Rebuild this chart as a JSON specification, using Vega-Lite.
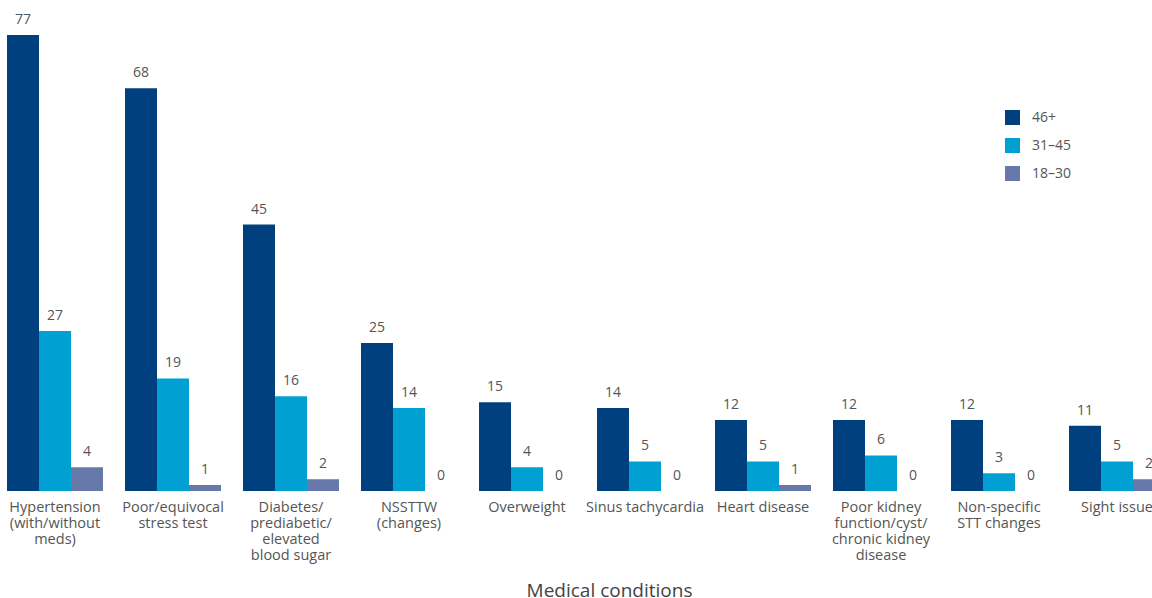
{
  "$schema": "https://vega.github.io/schema/vega-lite/v6.json",
  "width": 1152,
  "height": 456,
  "autosize": {"type": "none"},
  "padding": {"left": 0, "top": 35, "right": 0, "bottom": 107},
  "data": {
    "values": [
      {"condition": "Hypertension|(with/without|meds)", "age": "46+", "count": 77},
      {"condition": "Hypertension|(with/without|meds)", "age": "31–45", "count": 27},
      {"condition": "Hypertension|(with/without|meds)", "age": "18–30", "count": 4},
      {"condition": "Poor/equivocal|stress test", "age": "46+", "count": 68},
      {"condition": "Poor/equivocal|stress test", "age": "31–45", "count": 19},
      {"condition": "Poor/equivocal|stress test", "age": "18–30", "count": 1},
      {"condition": "Diabetes/|prediabetic/|elevated|blood sugar", "age": "46+", "count": 45},
      {"condition": "Diabetes/|prediabetic/|elevated|blood sugar", "age": "31–45", "count": 16},
      {"condition": "Diabetes/|prediabetic/|elevated|blood sugar", "age": "18–30", "count": 2},
      {"condition": "NSSTTW|(changes)", "age": "46+", "count": 25},
      {"condition": "NSSTTW|(changes)", "age": "31–45", "count": 14},
      {"condition": "NSSTTW|(changes)", "age": "18–30", "count": 0},
      {"condition": "Overweight", "age": "46+", "count": 15},
      {"condition": "Overweight", "age": "31–45", "count": 4},
      {"condition": "Overweight", "age": "18–30", "count": 0},
      {"condition": "Sinus tachycardia", "age": "46+", "count": 14},
      {"condition": "Sinus tachycardia", "age": "31–45", "count": 5},
      {"condition": "Sinus tachycardia", "age": "18–30", "count": 0},
      {"condition": "Heart disease", "age": "46+", "count": 12},
      {"condition": "Heart disease", "age": "31–45", "count": 5},
      {"condition": "Heart disease", "age": "18–30", "count": 1},
      {"condition": "Poor kidney|function/cyst/|chronic kidney|disease", "age": "46+", "count": 12},
      {"condition": "Poor kidney|function/cyst/|chronic kidney|disease", "age": "31–45", "count": 6},
      {"condition": "Poor kidney|function/cyst/|chronic kidney|disease", "age": "18–30", "count": 0},
      {"condition": "Non-specific|STT changes", "age": "46+", "count": 12},
      {"condition": "Non-specific|STT changes", "age": "31–45", "count": 3},
      {"condition": "Non-specific|STT changes", "age": "18–30", "count": 0},
      {"condition": "Sight issue", "age": "46+", "count": 11},
      {"condition": "Sight issue", "age": "31–45", "count": 5},
      {"condition": "Sight issue", "age": "18–30", "count": 2}
    ]
  },
  "encoding": {
    "x": {
      "field": "condition",
      "type": "nominal",
      "sort": null,
      "scale": {"range": [7, 1165], "paddingInner": 0.1864, "paddingOuter": 0},
      "axis": {
        "domain": false,
        "ticks": false,
        "labelAngle": 0,
        "labelPadding": 9,
        "labelLimit": 0,
        "labelFont": "Open Sans",
        "labelFontSize": 14.5,
        "labelColor": "#555555",
        "labelLineHeight": 16,
        "labelExpr": "split(datum.label, '|')",
        "title": "Medical conditions",
        "titleFont": "Open Sans",
        "titleFontSize": 19,
        "titleFontWeight": "normal",
        "titleColor": "#444444",
        "titleX": 609,
        "titleY": 105,
        "titleBaseline": "alphabetic"
      }
    },
    "xOffset": {
      "field": "age",
      "type": "nominal",
      "sort": ["46+", "31–45", "18–30"],
      "scale": {"paddingInner": 0, "paddingOuter": 0}
    },
    "y": {
      "field": "count",
      "type": "quantitative",
      "scale": {"domain": [0, 77], "nice": false},
      "axis": null
    }
  },
  "layer": [
    {
      "mark": {"type": "bar"},
      "encoding": {
        "color": {
          "field": "age",
          "type": "nominal",
          "sort": ["46+", "31–45", "18–30"],
          "scale": {
            "domain": ["46+", "31–45", "18–30"],
            "range": ["#00407e", "#00a0d2", "#6779ab"]
          },
          "legend": {
            "title": null,
            "orient": "none",
            "legendX": 1005,
            "legendY": 75,
            "symbolType": "square",
            "symbolSize": 225,
            "symbolStrokeWidth": 0,
            "symbolOpacity": 1,
            "rowPadding": 13,
            "labelOffset": 12,
            "labelFont": "Open Sans",
            "labelFontSize": 14,
            "labelColor": "#555555"
          }
        }
      }
    },
    {
      "mark": {
        "type": "text",
        "baseline": "alphabetic",
        "dy": -11,
        "font": "Open Sans",
        "fontSize": 14,
        "color": "#555555"
      },
      "encoding": {
        "text": {"field": "count", "type": "quantitative"}
      }
    }
  ],
  "config": {
    "view": {"stroke": null}
  }
}
